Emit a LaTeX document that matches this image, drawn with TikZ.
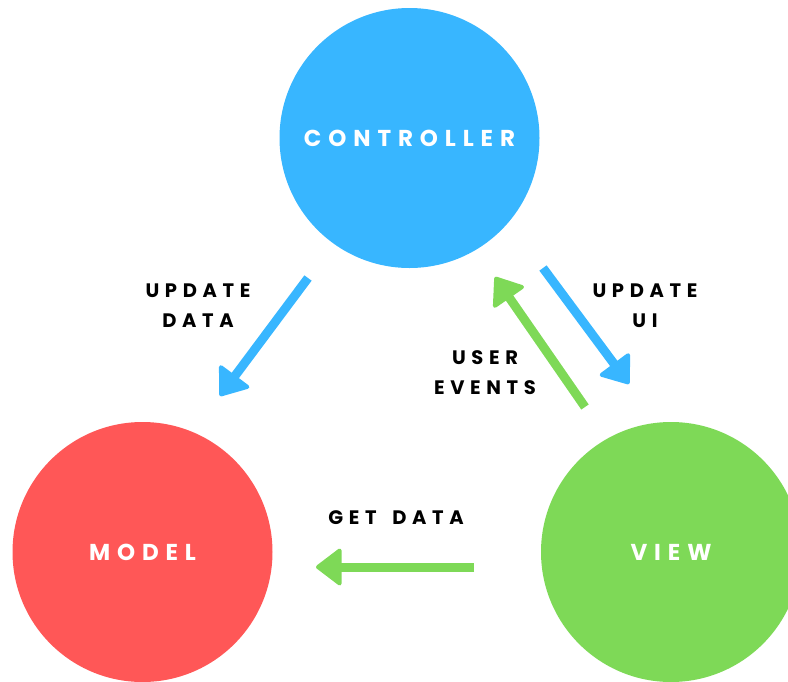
\documentclass[tikz,border=0pt]{standalone}
\usepackage{fontspec}
\setmainfont{Poppins}
\newfontfamily\circfont[LetterSpace=30]{Poppins}
\newfontfamily\lblfont[LetterSpace=29]{Poppins}
\usetikzlibrary{arrows.meta}
\definecolor{ctrlblue}{HTML}{38B6FF}
\definecolor{modelred}{HTML}{FF5757}
\definecolor{viewgreen}{HTML}{7ED957}
\tikzset{
  bigcircle/.style={circle, minimum size=260pt, inner sep=0pt, text=white,
    font=\circfont\bfseries\fontsize{23}{28}\selectfont},
  lbl/.style={align=center, text=black, inner sep=0pt,
    font=\lblfont\bfseries\fontsize{19.5}{30}\selectfont},
  conn/.style={line width=9pt, -{Triangle[round,length=27pt,width=40pt,line width=4pt]}},
}
\begin{document}
\begin{tikzpicture}[x=1pt,y=-1pt]
\useasboundingbox (0,0) rectangle (788,681);
\node[bigcircle, fill=ctrlblue] (ctrl) at (409.5,138) {CONTROLLER};
\node[bigcircle, fill=modelred] (model) at (142.5,552) {MODEL};
\node[bigcircle, fill=viewgreen] (view) at (671,552) {VIEW};

\coordinate (udS) at (308,278);
\coordinate (udE) at (220,396);
\coordinate (uuS) at (543,268);
\coordinate (uuE) at (629,384);
\coordinate (ueS) at (585,407);
\coordinate (ueE) at (495,277);
\coordinate (gdS) at (474,567);
\coordinate (gdE) at (316,567);

\draw[conn, draw=ctrlblue, fill=ctrlblue] (udS) -- (udE);
\draw[conn, draw=ctrlblue, fill=ctrlblue] (uuS) -- (uuE);
\draw[conn, draw=viewgreen, fill=viewgreen] (ueS) -- (ueE);
\draw[conn, draw=viewgreen, fill=viewgreen] (gdS) -- (gdE);

\node[lbl] (udL) at (198,306) {UPDATE\\DATA};
\node[lbl] (uuL) at (645,306) {UPDATE\\UI};
\node[lbl] (ueL) at (485,372.5) {USER\\EVENTS};
\node[lbl] (gdL) at (396,517.5) {GET\hspace{6pt} DATA};
\end{tikzpicture}
\end{document}
